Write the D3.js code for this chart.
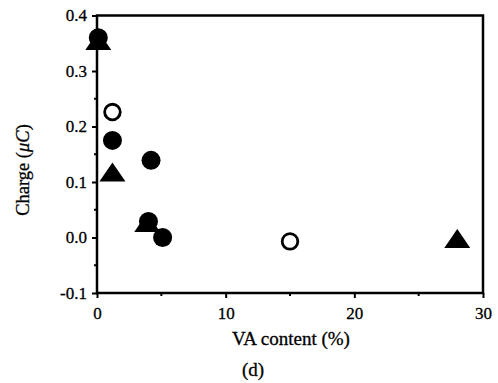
<!DOCTYPE html>
<html>
<head>
<meta charset="utf-8">
<script src="https://cdn.jsdelivr.net/npm/d3@7"></script>
<style>
  html, body { margin: 0; padding: 0; background: #fff; }
  svg { display: block; }
  text { font-family: "Liberation Serif", "DejaVu Serif", serif; fill: #000; }
</style>
</head>
<body>
<svg id="chart" width="498" height="383"></svg>
<script>
// VA content (%) vs. charge (µC)
const filledCircleX = [0.1, 1.2, 4.2, 4.0, 5.1];
const filledCircleY = [0.36, 0.175, 0.139, 0.029, 0.0];
const openCircleX = [1.2, 15.0];
const openCircleY = [0.226, -0.007];
const triangleX = [0.1, 1.2, 3.9, 28.0];
const triangleY = [0.355, 0.118, 0.027, -0.002];

const xTicks = [0, 10, 20, 30];
const yTicks = [-0.1, 0.0, 0.1, 0.2, 0.3, 0.4];
const xMinor = [5, 15, 25];
const yMinor = [-0.05, 0.05, 0.15, 0.25, 0.35];

const svg = d3.select("#chart");
const x = d3.scaleLinear().domain([0, 30]).range([97, 483]);
const y = d3.scaleLinear().domain([-0.1, 0.4]).range([293, 15.5]);

const fmtY = v => (v < 0 ? "-" : "") + Math.abs(v).toFixed(1);
const FONT = "'Liberation Serif', 'DejaVu Serif', serif";

// frame
svg.append("rect")
  .attr("x", x(0)).attr("y", y(0.4))
  .attr("width", x(30) - x(0)).attr("height", y(-0.1) - y(0.4))
  .attr("fill", "none").attr("stroke", "#000").attr("stroke-width", 2.5);

// axes
const xAxis = svg.append("g").attr("transform", `translate(0,${y(-0.1)})`)
  .call(d3.axisBottom(x).tickValues(xTicks).tickSize(5).tickPadding(9).tickFormat(d3.format("d")));
const yAxis = svg.append("g").attr("transform", `translate(${x(0)},0)`)
  .call(d3.axisLeft(y).tickValues(yTicks).tickSize(5).tickPadding(5).tickFormat(fmtY));
[xAxis, yAxis].forEach(g => {
  g.attr("font-family", FONT).attr("font-size", 17);
  g.select(".domain").remove();
  g.selectAll("line").attr("stroke", "#000").attr("stroke-width", 2);
  g.selectAll("text").attr("stroke", "#000").attr("stroke-width", 0.3);
});

// minor ticks
svg.append("g").selectAll("line").data(xMinor).join("line")
  .attr("x1", d => x(d)).attr("x2", d => x(d))
  .attr("y1", y(-0.1)).attr("y2", y(-0.1) + 3)
  .attr("stroke", "#000").attr("stroke-width", 2);
svg.append("g").selectAll("line").data(yMinor).join("line")
  .attr("x1", x(0)).attr("x2", x(0) - 3)
  .attr("y1", d => y(d)).attr("y2", d => y(d))
  .attr("stroke", "#000").attr("stroke-width", 2);

// markers
const triPath = (cx, cy) => {
  const w = 26, h = 19;
  return `M${cx},${cy - h / 2}L${cx + w / 2},${cy + h / 2}L${cx - w / 2},${cy + h / 2}Z`;
};
const marks = svg.append("g");
marks.selectAll("path.tri").data(triangleX.map((v, i) => [v, triangleY[i]])).join("path")
  .attr("class", "tri")
  .attr("d", d => triPath(x(d[0]), y(d[1])))
  .attr("fill", "#000");
marks.selectAll("circle.filled").data(filledCircleX.map((v, i) => [v, filledCircleY[i]])).join("circle")
  .attr("class", "filled")
  .attr("cx", d => x(d[0])).attr("cy", d => y(d[1])).attr("r", 9.5)
  .attr("fill", "#000");
marks.selectAll("circle.open").data(openCircleX.map((v, i) => [v, openCircleY[i]])).join("circle")
  .attr("class", "open")
  .attr("cx", d => x(d[0])).attr("cy", d => y(d[1])).attr("r", 7.8)
  .attr("fill", "#fff").attr("stroke", "#000").attr("stroke-width", 2.8);

// axis titles
const yLab = svg.append("text")
  .attr("transform", `translate(29,170) rotate(-90)`)
  .attr("text-anchor", "middle").attr("font-size", 18.5)
  .attr("stroke", "#000").attr("stroke-width", 0.3);
yLab.append("tspan").text("Charge (");
yLab.append("tspan").attr("font-style", "italic").text("μC");
yLab.append("tspan").text(")");

svg.append("text").attr("x", 291).attr("y", 345)
  .attr("text-anchor", "middle").attr("font-size", 19)
  .attr("stroke", "#000").attr("stroke-width", 0.3)
  .text("VA content (%)");

svg.append("text").attr("x", 253).attr("y", 376)
  .attr("text-anchor", "middle").attr("font-size", 19)
  .attr("stroke", "#000").attr("stroke-width", 0.3)
  .text("(d)");
</script>
</body>
</html>
